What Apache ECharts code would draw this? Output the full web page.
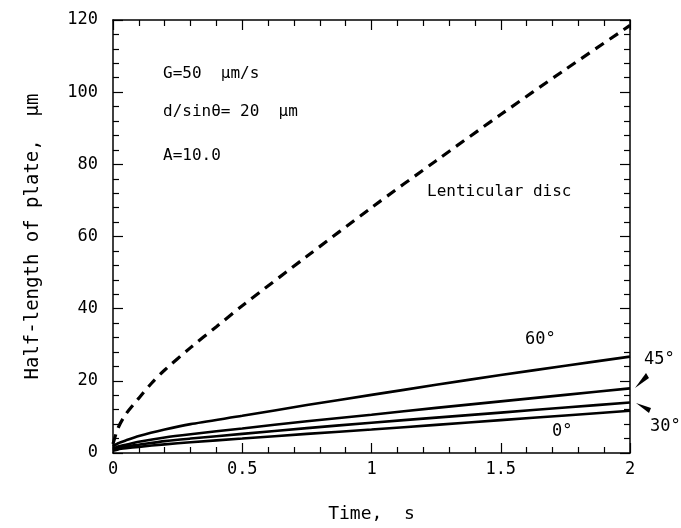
<!DOCTYPE html>
<html><head><meta charset="utf-8">
<script src="https://cdn.jsdelivr.net/npm/echarts@6/dist/echarts.min.js"></script>
<style>html,body{margin:0;padding:0;background:#fff}#c{width:681px;height:528px}</style>
</head><body><div id="c"></div>
<script>
const FONT = '"DejaVu Sans Mono", monospace';
// time values (s)
const tSolid = [0, 0.02, 0.05, 0.1, 0.2, 0.3, 0.5, 0.75, 1, 1.25, 1.5, 1.75, 2];
const deg60 = [1.8, 2.7, 3.5, 4.7, 6.5, 8.0, 10.3, 13.3, 16.1, 18.9, 21.6, 24.2, 26.7];
const deg45 = [1.2, 1.8, 2.3, 3.1, 4.3, 5.2, 6.8, 8.8, 10.6, 12.5, 14.3, 16.1, 17.9];
const deg30 = [0.9, 1.4, 1.8, 2.3, 3.3, 4.0, 5.3, 6.9, 8.4, 9.8, 11.2, 12.6, 14.0];
const deg0  = [0.6, 1.0, 1.3, 1.7, 2.4, 3.0, 4.0, 5.3, 6.5, 7.8, 9.1, 10.4, 11.7];
const tLent = [0, 0.02, 0.05, 0.1, 0.15, 0.2, 0.3, 0.4, 0.5, 0.75, 1, 1.25, 1.5, 1.75, 2];
const lenticular = [2.5, 7, 10.8, 15.2, 19.4, 23, 29.2, 35, 40.8, 54.5, 68, 81, 93.8, 106.3, 118.5];
const xTicks = [0, 0.5, 1, 1.5, 2];
const yTicks = [0, 20, 40, 60, 80, 100, 120];

const pairs = (xs, ys) => xs.map((x, i) => [x, ys[i]]);
const solid = (name, ys) => ({
  name, type: 'line', data: pairs(tSolid, ys), showSymbol: false, smooth: 0.2,
  lineStyle: {color: '#000', width: 2.6}, silent: true, xAxisIndex: 0, yAxisIndex: 0
});
const axisCommon = {
  axisLine: {show: true, onZero: false, lineStyle: {color: '#000', width: 1.5}},
  axisTick: {show: true, inside: true, length: 10, lineStyle: {color: '#000', width: 1.2}},
  minorTick: {show: true, splitNumber: 5, length: 6, lineStyle: {color: '#000', width: 1.2}},
  splitLine: {show: false}
};
const chart = echarts.init(document.getElementById('c'));
chart.setOption({
  backgroundColor: '#fff',
  animation: false,
  grid: {left: 113, top: 20, right: 51, bottom: 75},
  xAxis: [
    Object.assign({type: 'value', min: xTicks[0], max: xTicks[xTicks.length-1], interval: 0.5, position: 'bottom',
      name: 'Time,  s', nameLocation: 'middle', nameGap: 52,
      nameTextStyle: {fontFamily: FONT, fontSize: 18, color: '#000'},
      axisLabel: {fontFamily: FONT, fontSize: 17, color: '#000', margin: 8,
        formatter: v => xTicks.includes(v) ? String(v) : ''}}, axisCommon),
    Object.assign({type: 'value', min: xTicks[0], max: xTicks[xTicks.length-1], interval: 0.5, position: 'top',
      axisLabel: {show: false}}, axisCommon)
  ],
  yAxis: [
    Object.assign({type: 'value', min: yTicks[0], max: yTicks[yTicks.length-1], interval: 20, position: 'left',
      name: 'Half-length of plate,  μm', nameLocation: 'middle', nameGap: 70, nameRotate: 90,
      nameTextStyle: {fontFamily: FONT, fontSize: 19, color: '#000'},
      axisLabel: {fontFamily: FONT, fontSize: 17, color: '#000', margin: 15}}, axisCommon),
    Object.assign({type: 'value', min: yTicks[0], max: yTicks[yTicks.length-1], interval: 20, position: 'right',
      axisLabel: {show: false}}, axisCommon)
  ],
  series: [
    {name: 'Lenticular disc', type: 'line', data: pairs(tLent, lenticular), showSymbol: false, smooth: 0.3,
      lineStyle: {color: '#000', width: 3.2, type: [10, 7]}, silent: true},
    solid('60°', deg60), solid('45°', deg45), solid('30°', deg30), solid('0°', deg0)
  ],
  graphic: [
    {type: 'text', left: 163, top: 66, style: {text: 'G=50  μm/s', font: '16px ' + FONT, fill: '#000'}},
    {type: 'text', left: 163, top: 104, style: {text: 'd/sinθ= 20  μm', font: '16px ' + FONT, fill: '#000'}},
    {type: 'text', left: 163, top: 148, style: {text: 'A=10.0', font: '16px ' + FONT, fill: '#000'}},
    {type: 'text', left: 427, top: 184, style: {text: 'Lenticular disc', font: '16px ' + FONT, fill: '#000'}},
    {type: 'text', left: 525, top: 331, style: {text: '60°', font: '17px ' + FONT, fill: '#000'}},
    {type: 'text', left: 644, top: 351, style: {text: '45°', font: '17px ' + FONT, fill: '#000'}},
    {type: 'text', left: 650, top: 418, style: {text: '30°', font: '17px ' + FONT, fill: '#000'}},
    {type: 'text', left: 552, top: 423, style: {text: '0°', font: '17px ' + FONT, fill: '#000'}},
    {type: 'polygon', shape: {points: [[635, 388], [646, 373], [649, 378]]}, style: {fill: '#000'}},
    {type: 'polygon', shape: {points: [[636, 403], [651, 408], [649, 413]]}, style: {fill: '#000'}}
  ]
});
</script></body></html>
